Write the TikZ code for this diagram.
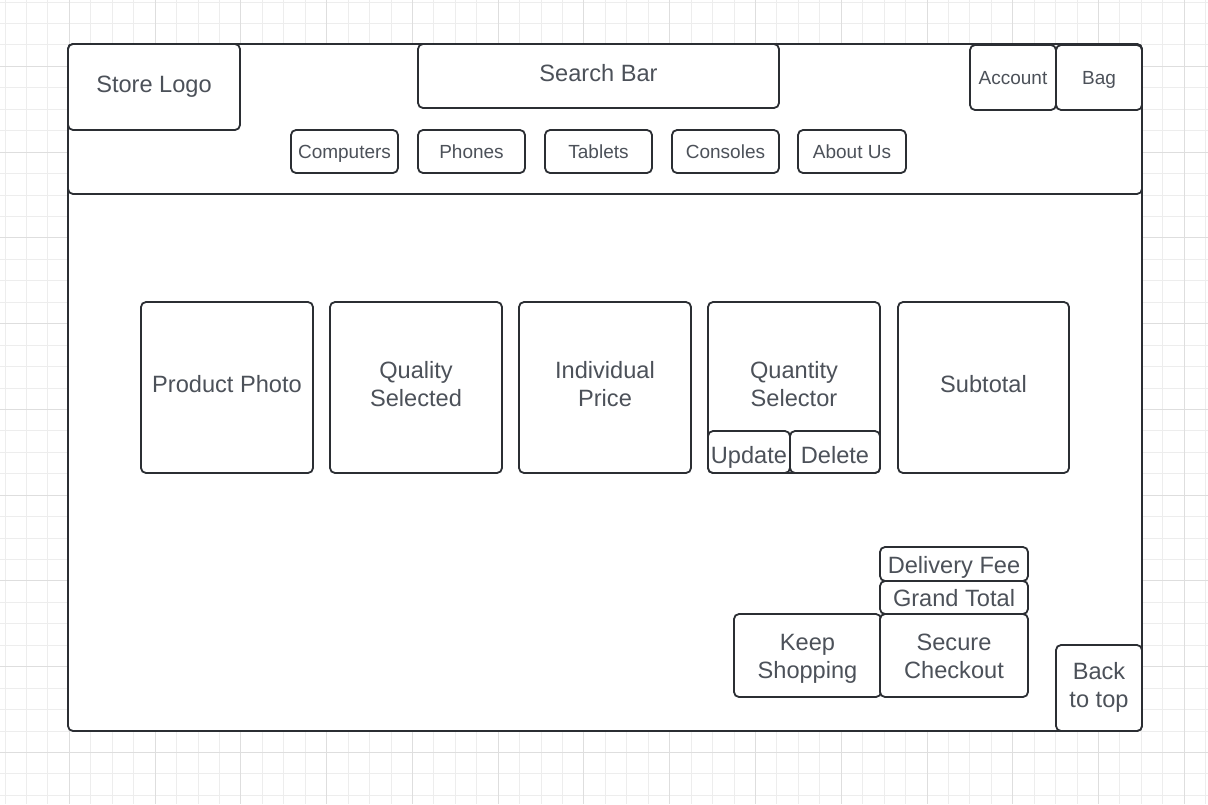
\documentclass[tikz,border=0pt]{standalone}
\usepackage{fontspec}
\setmainfont{Liberation Sans}
\definecolor{gridminor}{HTML}{EDEDED}
\definecolor{gridmajor}{HTML}{DEDEDE}
\definecolor{strokec}{HTML}{2B2E33}
\definecolor{textc}{HTML}{4C5159}
% struts: height above baseline minus depth sets where the baseline sits
\newcommand\strA{\rule[-8.5pt]{0pt}{27.5pt}}
\newcommand\strB{\rule[-4.5pt]{0pt}{27.5pt}}
\begin{document}
\begin{tikzpicture}[x=1pt,y=-1pt,
  box/.style={draw=strokec, line width=1.8pt, rounded corners=5pt, fill=white,
    inner sep=0pt, align=center, text=textc, font=\fontsize{23.6}{28}\selectfont},
  smallbox/.style={box, font=\fontsize{19}{23}\selectfont, text height=13pt, text depth=0pt},
  btnbox/.style={box, text height=23pt, text depth=0pt},
  gline/.style={line width=0.8pt}]
\useasboundingbox (0,0) rectangle (1208,804);
\fill[white] (0,0) rectangle (1208,804);
% grid
\foreach \k in {0,...,56} {\draw[gline,gridminor] ({5+21.44*\k},0) -- ({5+21.44*\k},804);}
\foreach \k in {0,...,37} {\draw[gline,gridminor] (0,{2+21.44*\k}) -- (1208,{2+21.44*\k});}
\foreach \k in {3,7,...,55} {\draw[gline,gridmajor] ({5+21.44*\k},0) -- ({5+21.44*\k},804);}
\foreach \k in {3,7,...,35} {\draw[gline,gridmajor] (0,{2+21.44*\k}) -- (1208,{2+21.44*\k});}
% frame
\node[box, minimum width=1074pt, minimum height=687pt] (frame) at (605,387.5) {};
\node[box, minimum width=1074pt, minimum height=150pt] (header) at (605,119) {};
% header content
\node[box, minimum width=172pt, minimum height=86pt] (logo) at (154,87) {\strA Store Logo};
\node[box, minimum width=361pt, minimum height=64pt] (search) at (598.5,76) {\strA Search Bar};
\node[smallbox, minimum width=86pt, minimum height=65pt] (account) at (1013,77.5) {Account};
\node[smallbox, minimum width=86pt, minimum height=65pt] (bag) at (1099,77.5) {Bag};
\node[smallbox, minimum width=107pt, minimum height=43pt] (computers) at (344.5,151.5) {Computers};
\node[smallbox, minimum width=107pt, minimum height=43pt] (phones) at (471.5,151.5) {Phones};
\node[smallbox, minimum width=107pt, minimum height=43pt] (tablets) at (598.5,151.5) {Tablets};
\node[smallbox, minimum width=107pt, minimum height=43pt] (consoles) at (725.5,151.5) {Consoles};
\node[smallbox, minimum width=108pt, minimum height=43pt] (about) at (852,151.5) {About Us};
% product row
\node[box, minimum width=172pt, minimum height=171pt] (photo) at (227,387.5) {\strA Product Photo};
\node[box, minimum width=172pt, minimum height=171pt] (quality) at (416,387.5) {\strA Quality\\\strA Selected};
\node[box, minimum width=172pt, minimum height=171pt] (price) at (605,387.5) {\strA Individual\\\strA Price};
\node[box, minimum width=172pt, minimum height=171pt] (qty) at (794,387.5) {\strA Quantity\\\strA Selector};
\node[btnbox, minimum width=82pt, minimum height=42pt] (update) at (749,452) {Update};
\node[btnbox, minimum width=90pt, minimum height=42pt] (delete) at (835,452) {Delete};
\node[box, minimum width=171pt, minimum height=171pt] (subtotal) at (983.5,387.5) {\strA Subtotal};
% totals
\node[box, minimum width=148pt, minimum height=34pt] (delivery) at (954,564) {\strB Delivery Fee};
\node[box, minimum width=148pt, minimum height=33pt] (grand) at (954,597.5) {\strB Grand Total};
\node[box, minimum width=147pt, minimum height=83pt] (keep) at (807.5,655.5) {\strB Keep\\\strB Shopping};
\node[box, minimum width=148pt, minimum height=83pt] (secure) at (954,655.5) {\strB Secure\\\strB Checkout};
\node[box, minimum width=86pt, minimum height=86pt] (backtop) at (1099,688) {\strA Back\\\strA to top};
\end{tikzpicture}
\end{document}
